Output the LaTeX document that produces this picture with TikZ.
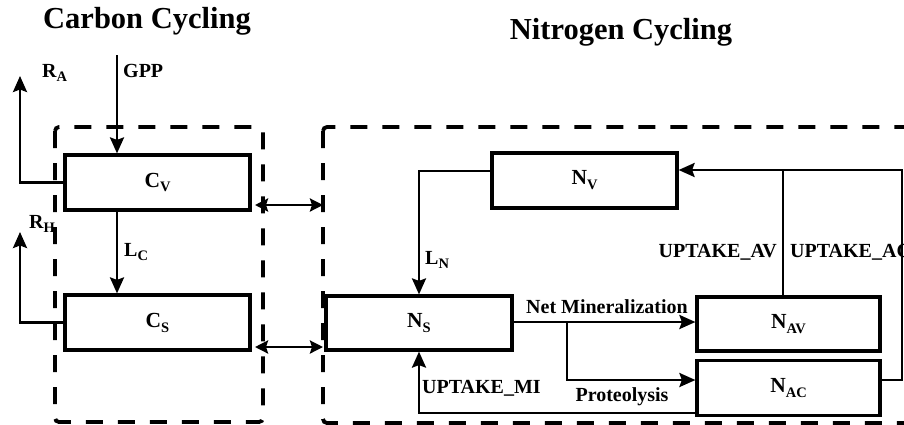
\documentclass[tikz,border=0pt]{standalone}
\usepackage{fontspec}
\setmainfont{Liberation Serif}
\usetikzlibrary{arrows.meta}
\newcommand{\lowsub}[1]{\raisebox{-0.5ex}{\fontsize{14.5}{14}\selectfont #1}}
\begin{document}
\begin{tikzpicture}[x=1pt,y=-1pt,
  box/.style={draw, line width=3.2pt, minimum width=185pt, minimum height=55pt, inner sep=0pt,
              font=\fontsize{21.5}{22}\selectfont\bfseries},
  lab/.style={inner sep=0pt, font=\fontsize{20}{22}\selectfont\bfseries},
  ttl/.style={inner sep=0pt, font=\fontsize{30.5}{32}\selectfont\bfseries},
  conn/.style={line width=2.6pt},
  arr/.style={conn, -{Stealth[length=16pt,width=14pt,inset=2.5pt]}},
  darr/.style={conn, {Stealth[length=13pt,width=13pt,inset=2pt]}-{Stealth[length=13pt,width=13pt,inset=2pt]}},
  dashbox/.style={line width=3.8pt, dash pattern=on 17pt off 15pt, rounded corners=4pt}]
\clip (0,0) rectangle (904,424);
\fill[white] (0,0) rectangle (904,424);

% dashed groups
\draw[dashbox] (55,127) rectangle (263,422);
\draw[dashbox] (323,127) rectangle (950,423);

% titles
\node[ttl] (tc) at (147,21) {Carbon Cycling};
\node[ttl] (tn) at (621,32) {Nitrogen Cycling};

% carbon boxes
\node[box] (cv) at (157.5,182.5) {C\lowsub{V}};
\node[box] (cs) at (157.5,322.5) {C\lowsub{S}};

% nitrogen boxes
\node[box] (nv) at (584.5,180.5) {N\lowsub{V}};
\node[box, minimum width=186pt, minimum height=54pt] (ns) at (419,323) {N\lowsub{S}};
\node[box, minimum width=183pt, minimum height=54pt] (nav) at (788.5,324) {N\lowsub{AV}};
\node[box, minimum width=183pt] (nac) at (788.5,388) {N\lowsub{AC}};

% coordinates
\coordinate (gppS) at (117,55);
\coordinate (raT) at (20,76);
\coordinate (rhT) at (20,232);
\coordinate (d1l) at (255,205);
\coordinate (d1r) at (323,205);
\coordinate (d2l) at (255,347);
\coordinate (d2r) at (323,347);
\coordinate (br) at (567,322);
\coordinate (rtop) at (902,170);

% carbon connectors
\draw[arr] (gppS) -- (gppS |- cv.north);
\draw[arr] (cv.south -| gppS) -- (cs.north -| gppS);
\draw[arr] (cv.west) -| (raT);
\draw[arr] (cs.west) -| (rhT);
\draw[darr] (d1l) -- (d1r);
\draw[darr] (d2l) -- (d2r);

% nitrogen connectors
\draw[arr] ([yshift=9.5pt]nv.west) -| (ns.north);
\draw[arr] ([yshift=1pt]ns.east) -- ([yshift=1pt]ns.east -| nav.west);
\draw[arr] (br) |- ([yshift=8pt]nac.west);
\draw[arr] ([yshift=-25pt]nac.west) -| (ns.south);
\draw[arr] ([yshift=8pt]nac.east) -| (rtop) -- (rtop -| nv.east);
\draw[conn] ([xshift=-5.5pt]nav.north) -- ([xshift=-5.5pt]nav.north |- rtop);

% labels
\node[lab, anchor=west] (lgpp) at (123,71) {GPP};
\node[lab, anchor=west] (lra) at (42,73) {R\lowsub{A}};
\node[lab, anchor=west] (lrh) at (29,224) {R\lowsub{H}};
\node[lab, anchor=west] (llc) at (124,252) {L\lowsub{C}};
\node[lab, anchor=west] (lln) at (425,260) {L\lowsub{N}};
\node[lab, anchor=east] (luav) at (777,252) {UPTAKE\_AV};
\node[lab, anchor=west] (luac) at (790,252) {UPTAKE\_AC};
\node[lab] (lnm) at (607,307) {Net Mineralization};
\node[lab] (lpr) at (622,397) {Proteolysis};
\node[lab, anchor=west] (lmi) at (422,388) {UPTAKE\_MI};
\end{tikzpicture}
\end{document}
